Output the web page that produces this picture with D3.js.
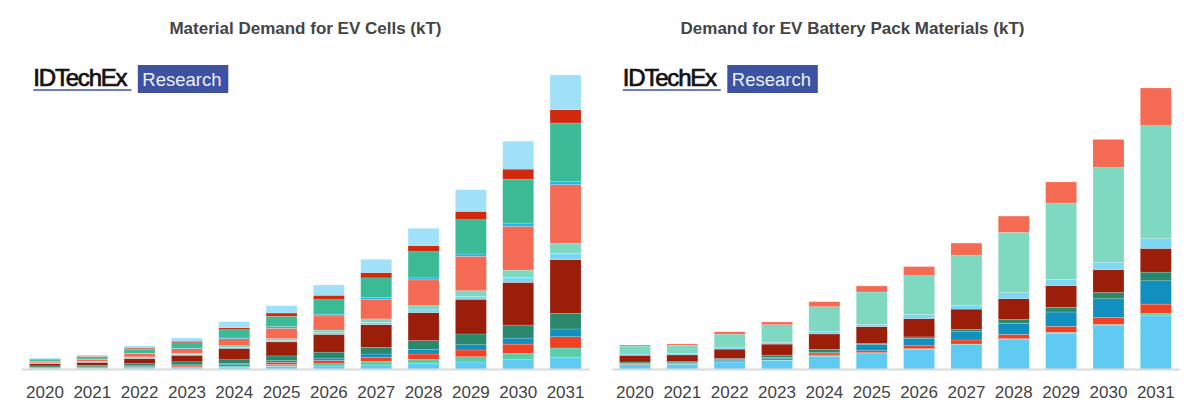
<!DOCTYPE html>
<html>
<head>
<meta charset="utf-8">
<script src="https://cdn.jsdelivr.net/npm/d3@7"></script>
<style>
  body { margin: 0; background: #fff; }
  text { font-family: "Liberation Sans", Arial, sans-serif; }
</style>
</head>
<body>
<div id="chart"></div>
<script>
// Years on both charts
const years = ["2020", "2021", "2022", "2023", "2024", "2025", "2026", "2027", "2028", "2029", "2030", "2031"];

// Cell materials (kT), stacked bottom to top, one row per material
const cellColors = ["#5fcbf2", "#5ccda8", "#f04124", "#118fbe", "#29886b", "#9a1e0a",
                    "#7ed6f5", "#7fd9c0", "#f46a53", "#27b5e9", "#3abb96", "#d0290e", "#a0e1f9"];
const cellValues = [
  [5, 6, 9, 12, 17, 27, 30, 40, 57, 70, 93, 117],
  [4, 5, 8, 10, 13, 17, 23, 36, 40, 53, 63, 93],
  [5, 5, 8, 10, 13, 23, 33, 40, 53, 67, 93, 113],
  [5, 6, 7, 10, 13, 17, 23, 34, 47, 53, 60, 77],
  [12, 15, 23, 30, 37, 47, 60, 67, 87, 107, 130, 157],
  [24, 30, 50, 65, 113, 140, 177, 227, 280, 347, 427, 537],
  [3, 4, 6, 8, 10, 13, 17, 23, 27, 30, 50, 63],
  [5, 6, 10, 13, 17, 20, 27, 34, 43, 57, 73, 100],
  [15, 20, 33, 45, 70, 103, 140, 193, 257, 343, 437, 587],
  [2, 3, 4, 5, 7, 17, 17, 23, 20, 23, 33, 33],
  [18, 22, 40, 55, 83, 103, 147, 194, 263, 343, 440, 583],
  [4, 6, 11, 15, 20, 33, 43, 53, 60, 83, 100, 133],
  [8, 12, 21, 32, 60, 73, 103, 133, 173, 217, 280, 347]
];

// Battery pack materials (kT), stacked bottom to top
const packColors = ["#5fcbf2", "#5ccda8", "#f04124", "#118fbe", "#29886b", "#9a1e0a",
                    "#7ed6f5", "#7fd9c0", "#f46a53"];
const packValues = [
  [45, 48, 70, 87, 127, 160, 197, 243, 293, 357, 433, 533],
  [2, 2, 3, 3, 7, 4, 6, 7, 10, 10, 13, 23],
  [6, 7, 10, 13, 17, 20, 30, 40, 43, 60, 70, 93],
  [7, 7, 13, 13, 13, 63, 73, 83, 110, 143, 187, 233],
  [10, 10, 10, 23, 33, 10, 15, 23, 40, 47, 63, 87],
  [67, 67, 93, 110, 153, 167, 183, 203, 207, 217, 227, 237],
  [13, 17, 13, 17, 23, 23, 40, 40, 60, 63, 73, 97],
  [80, 80, 137, 177, 250, 323, 390, 500, 603, 763, 950, 1130],
  [10, 13, 23, 27, 50, 60, 90, 120, 163, 210, 280, 377]
];

const W = 1189, H = 408, baseY = 369;

const svg = d3.select("#chart").append("svg")
  .attr("width", W)
  .attr("height", H);

const y = d3.scaleLinear().domain([0, 3000]).range([baseY, baseY - 300]);

function drawChart(g, values, colors, x0, x1) {
  const keys = values.map((v, i) => "s" + i);
  const table = years.map((yr, j) => {
    const row = { year: yr };
    values.forEach((v, i) => { row["s" + i] = v[j]; });
    return row;
  });
  const series = d3.stack().keys(keys)(table);

  const x = d3.scaleBand().domain(years).range([x0, x1])
    .paddingInner(0.345).paddingOuter(0.1725);

  g.selectAll(".layer")
    .data(series)
    .enter().append("g")
      .attr("fill", (d, i) => colors[i])
    .selectAll("rect")
    .data(d => d)
    .enter().append("rect")
      .attr("x", d => x(d.data.year))
      .attr("width", x.bandwidth())
      .attr("y", d => y(d[1]))
      .attr("height", d => y(d[0]) - y(d[1]))
      .attr("stroke", "#fff")
      .attr("stroke-opacity", 0.35)
      .attr("stroke-width", 0.5);

  const axis = g.append("g")
    .attr("transform", "translate(0," + baseY + ")")
    .call(d3.axisBottom(x).tickSize(0).tickPadding(17));
  axis.select(".domain").attr("stroke", "#d9d9d9").attr("stroke-width", 2);
  axis.selectAll("text")
    .attr("fill", "#444")
    .style("font-size", "17px")
    .style("font-family", "'Liberation Sans', Arial, sans-serif");
}

function drawLogo(g, lx) {
  g.append("text")
    .attr("x", lx)
    .attr("y", 86)
    .attr("fill", "#111")
    .attr("stroke", "#111")
    .attr("stroke-width", 0.7)
    .style("font-size", "24px")
    .style("letter-spacing", "-1.2px")
    .text("IDTechEx");
  g.append("line")
    .attr("x1", lx).attr("x2", lx + 98)
    .attr("y1", 90).attr("y2", 90)
    .attr("stroke", "#3d52a1")
    .attr("stroke-width", 1.5);
  g.append("rect")
    .attr("x", lx + 104.5)
    .attr("y", 65)
    .attr("width", 90.5)
    .attr("height", 28)
    .attr("fill", "#3d52a1");
  g.append("text")
    .attr("x", lx + 109)
    .attr("y", 86)
    .attr("fill", "#eef0f8")
    .style("font-size", "18.5px")
    .text("Research");
}

const left = svg.append("g");
const right = svg.append("g");

drawChart(left, cellValues, cellColors, 21.3, 589.2);
drawChart(right, packValues, packColors, 611.3, 1179.5);

drawLogo(left, 33.3);
drawLogo(right, 622.8);

svg.append("text")
  .attr("x", 305.5).attr("y", 34)
  .attr("text-anchor", "middle")
  .attr("fill", "#444")
  .style("font-size", "17px")
  .style("font-weight", "bold")
  .text("Material Demand for EV Cells (kT)");

svg.append("text")
  .attr("x", 852.5).attr("y", 34)
  .attr("text-anchor", "middle")
  .attr("fill", "#444")
  .style("font-size", "17px")
  .style("font-weight", "bold")
  .text("Demand for EV Battery Pack Materials (kT)");
</script>
</body>
</html>
